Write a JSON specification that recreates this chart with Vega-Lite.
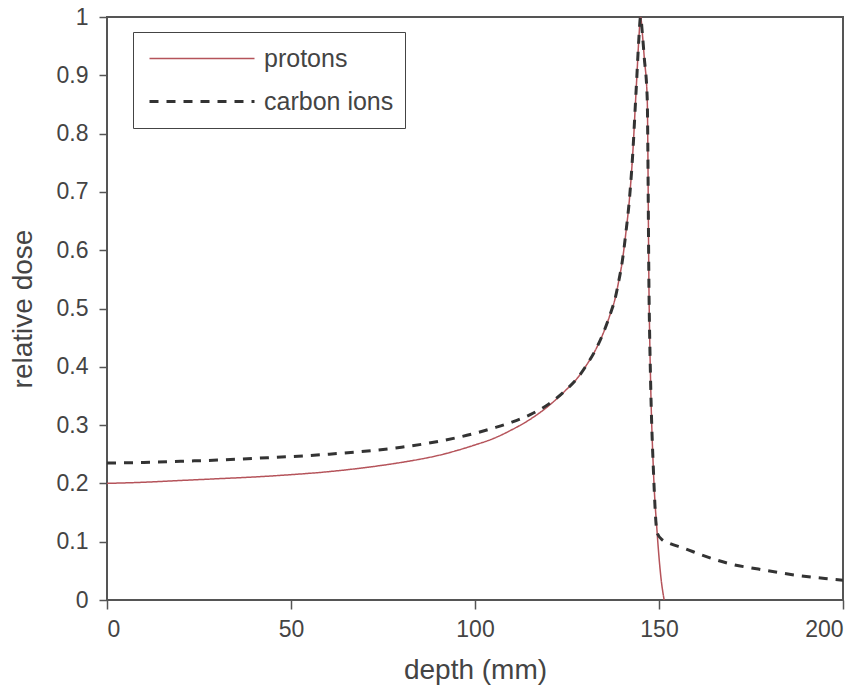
{
  "$schema": "https://vega.github.io/schema/vega-lite/v6.json",
  "width": 736,
  "height": 583,
  "autosize": "none",
  "padding": {"left": 107, "top": 17, "right": 21, "bottom": 87},
  "background": "white",
  "config": {
    "font": "Liberation Sans",
    "view": {"stroke": "#555", "strokeWidth": 2},
    "axis": {
      "grid": false,
      "domain": false,
      "tickColor": "#555",
      "tickWidth": 1.5,
      "labelFont": "Liberation Sans",
      "labelFontSize": 23,
      "labelColor": "#444",
      "titleFont": "Liberation Sans",
      "titleFontSize": 28,
      "titleFontWeight": "normal",
      "titleColor": "#444"
    },
    "legend": {
      "orient": "none",
      "legendX": 26,
      "legendY": 15,
      "strokeColor": "#444",
      "fillColor": "white",
      "padding": 11,
      "title": null,
      "labelFont": "Liberation Sans",
      "labelFontSize": 25,
      "labelColor": "#444",
      "symbolType": "stroke",
      "symbolSize": 11025,
      "clipHeight": 31,
      "rowPadding": 12,
      "symbolOffset": 4,
      "labelOffset": 8
    }
  },
  "data": {
    "values": [
      {"d": 0, "dose": 0.2, "s": "protons"},
      {"d": 10, "dose": 0.202, "s": "protons"},
      {"d": 20, "dose": 0.205, "s": "protons"},
      {"d": 30, "dose": 0.208, "s": "protons"},
      {"d": 40, "dose": 0.211, "s": "protons"},
      {"d": 50, "dose": 0.215, "s": "protons"},
      {"d": 60, "dose": 0.22, "s": "protons"},
      {"d": 70, "dose": 0.227, "s": "protons"},
      {"d": 80, "dose": 0.236, "s": "protons"},
      {"d": 90, "dose": 0.248, "s": "protons"},
      {"d": 100, "dose": 0.266, "s": "protons"},
      {"d": 105, "dose": 0.277, "s": "protons"},
      {"d": 110, "dose": 0.292, "s": "protons"},
      {"d": 115, "dose": 0.31, "s": "protons"},
      {"d": 120, "dose": 0.333, "s": "protons"},
      {"d": 125, "dose": 0.362, "s": "protons"},
      {"d": 128, "dose": 0.382, "s": "protons"},
      {"d": 130, "dose": 0.4, "s": "protons"},
      {"d": 133, "dose": 0.432, "s": "protons"},
      {"d": 135, "dose": 0.46, "s": "protons"},
      {"d": 137, "dose": 0.495, "s": "protons"},
      {"d": 138, "dose": 0.515, "s": "protons"},
      {"d": 139, "dose": 0.545, "s": "protons"},
      {"d": 140, "dose": 0.58, "s": "protons"},
      {"d": 141, "dose": 0.63, "s": "protons"},
      {"d": 142, "dose": 0.69, "s": "protons"},
      {"d": 143, "dose": 0.78, "s": "protons"},
      {"d": 143.5, "dose": 0.84, "s": "protons"},
      {"d": 144, "dose": 0.9, "s": "protons"},
      {"d": 144.5, "dose": 0.96, "s": "protons"},
      {"d": 145, "dose": 1.0, "s": "protons"},
      {"d": 145.5, "dose": 0.97, "s": "protons"},
      {"d": 146, "dose": 0.93, "s": "protons"},
      {"d": 146.8, "dose": 0.86, "s": "protons"},
      {"d": 147.3, "dose": 0.52, "s": "protons"},
      {"d": 147.7, "dose": 0.38, "s": "protons"},
      {"d": 148.5, "dose": 0.22, "s": "protons"},
      {"d": 149.5, "dose": 0.115, "s": "protons"},
      {"d": 150.5, "dose": 0.04, "s": "protons"},
      {"d": 151.4, "dose": 0.0, "s": "protons"},
      {"d": 0, "dose": 0.235, "s": "carbon ions"},
      {"d": 10, "dose": 0.236, "s": "carbon ions"},
      {"d": 20, "dose": 0.238, "s": "carbon ions"},
      {"d": 30, "dose": 0.24, "s": "carbon ions"},
      {"d": 40, "dose": 0.243, "s": "carbon ions"},
      {"d": 50, "dose": 0.246, "s": "carbon ions"},
      {"d": 60, "dose": 0.25, "s": "carbon ions"},
      {"d": 70, "dose": 0.255, "s": "carbon ions"},
      {"d": 80, "dose": 0.262, "s": "carbon ions"},
      {"d": 90, "dose": 0.272, "s": "carbon ions"},
      {"d": 100, "dose": 0.286, "s": "carbon ions"},
      {"d": 105, "dose": 0.295, "s": "carbon ions"},
      {"d": 110, "dose": 0.305, "s": "carbon ions"},
      {"d": 115, "dose": 0.318, "s": "carbon ions"},
      {"d": 120, "dose": 0.336, "s": "carbon ions"},
      {"d": 125, "dose": 0.362, "s": "carbon ions"},
      {"d": 128, "dose": 0.382, "s": "carbon ions"},
      {"d": 130, "dose": 0.4, "s": "carbon ions"},
      {"d": 133, "dose": 0.432, "s": "carbon ions"},
      {"d": 135, "dose": 0.46, "s": "carbon ions"},
      {"d": 137, "dose": 0.495, "s": "carbon ions"},
      {"d": 138, "dose": 0.515, "s": "carbon ions"},
      {"d": 139, "dose": 0.545, "s": "carbon ions"},
      {"d": 140, "dose": 0.58, "s": "carbon ions"},
      {"d": 141, "dose": 0.63, "s": "carbon ions"},
      {"d": 142, "dose": 0.69, "s": "carbon ions"},
      {"d": 143, "dose": 0.78, "s": "carbon ions"},
      {"d": 143.5, "dose": 0.84, "s": "carbon ions"},
      {"d": 144, "dose": 0.9, "s": "carbon ions"},
      {"d": 144.5, "dose": 0.96, "s": "carbon ions"},
      {"d": 145, "dose": 1.0, "s": "carbon ions"},
      {"d": 145.5, "dose": 0.97, "s": "carbon ions"},
      {"d": 146, "dose": 0.93, "s": "carbon ions"},
      {"d": 146.8, "dose": 0.86, "s": "carbon ions"},
      {"d": 147.3, "dose": 0.52, "s": "carbon ions"},
      {"d": 147.7, "dose": 0.38, "s": "carbon ions"},
      {"d": 148.5, "dose": 0.22, "s": "carbon ions"},
      {"d": 149.5, "dose": 0.115, "s": "carbon ions"},
      {"d": 150.9, "dose": 0.103, "s": "carbon ions"},
      {"d": 153, "dose": 0.097, "s": "carbon ions"},
      {"d": 156.7, "dose": 0.089, "s": "carbon ions"},
      {"d": 161.7, "dose": 0.077, "s": "carbon ions"},
      {"d": 169.3, "dose": 0.062, "s": "carbon ions"},
      {"d": 177, "dose": 0.053, "s": "carbon ions"},
      {"d": 186.7, "dose": 0.043, "s": "carbon ions"},
      {"d": 196.8, "dose": 0.036, "s": "carbon ions"},
      {"d": 200, "dose": 0.034, "s": "carbon ions"}
    ]
  },
  "mark": {"type": "line", "interpolate": "monotone", "clip": true},
  "encoding": {
    "x": {
      "field": "d",
      "type": "quantitative",
      "title": "depth (mm)",
      "scale": {"domain": [0, 200], "nice": false, "zero": false},
      "axis": {"values": [0, 50, 100, 150, 200], "tickSize": 9, "labelPadding": 9, "titlePadding": 15}
    },
    "y": {
      "field": "dose",
      "type": "quantitative",
      "title": "relative dose",
      "scale": {"domain": [0, 1], "nice": false},
      "axis": {"values": [0, 0.1, 0.2, 0.3, 0.4, 0.5, 0.6, 0.7, 0.8, 0.9, 1], "format": "~g", "tickSize": 8, "labelPadding": 11, "titlePadding": 19}
    },
    "color": {
      "field": "s",
      "type": "nominal",
      "scale": {"domain": ["protons", "carbon ions"], "range": ["#b5535a", "#333333"]},
      "legend": {"title": null}
    },
    "strokeDash": {
      "field": "s",
      "type": "nominal",
      "scale": {"domain": ["protons", "carbon ions"], "range": [[1, 0], [9, 8]]},
      "legend": {"title": null}
    },
    "strokeWidth": {
      "field": "s",
      "type": "nominal",
      "scale": {"domain": ["protons", "carbon ions"], "range": [1.5, 3]},
      "legend": {"title": null}
    }
  }
}
